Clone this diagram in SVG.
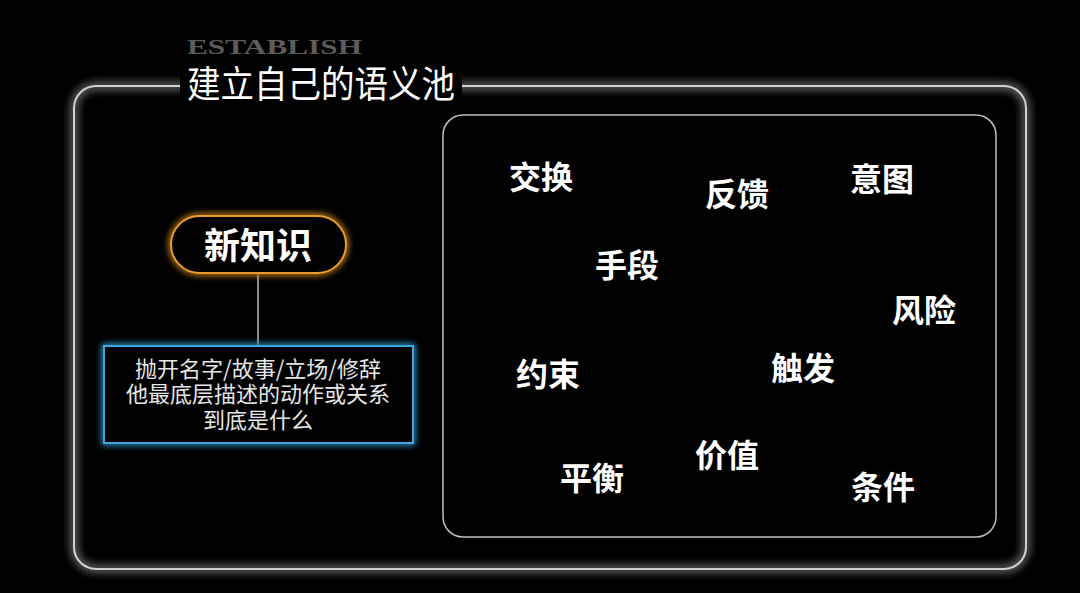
<svg xmlns="http://www.w3.org/2000/svg" width="1080" height="593" viewBox="0 0 1080 593">
  <defs>
    <filter id="glow" x="-10%" y="-10%" width="120%" height="120%">
      <feGaussianBlur in="SourceGraphic" stdDeviation="5" result="b"/>
      <feMerge><feMergeNode in="b"/><feMergeNode in="b"/><feMergeNode in="SourceGraphic"/></feMerge>
    </filter>
    <filter id="glowS" x="-20%" y="-40%" width="140%" height="180%">
      <feGaussianBlur in="SourceGraphic" stdDeviation="3.5" result="b"/>
      <feMerge><feMergeNode in="b"/><feMergeNode in="b"/><feMergeNode in="SourceGraphic"/></feMerge>
    </filter>
  </defs>
  <style>
    .word { font-family: "Noto Sans CJK SC", "Noto Sans", sans-serif; font-size: 32px; font-weight: bold; fill: #ffffff; text-anchor: middle; }
    .desc { font-family: "Noto Sans CJK SC", "Noto Sans", sans-serif; font-size: 22px; fill: #e6e6e6; text-anchor: middle; }
  </style>
  <rect x="0" y="0" width="1080" height="593" fill="#000000"/>

  <g id="frame">
    <rect x="74" y="86" width="952" height="483" rx="22" fill="none" stroke="#d0d0d0" stroke-width="2" filter="url(#glow)"/>
  </g>

  <g id="title">
    <rect x="180" y="70" width="282" height="34" fill="#000000"/>
    <text x="187" y="54" font-family="Liberation Serif, serif" font-weight="bold" font-size="20" fill="#5c5c5c" textLength="175" lengthAdjust="spacingAndGlyphs">ESTABLISH</text>
    <text x="187" y="98" font-family="Noto Sans CJK SC, sans-serif" font-size="37" fill="#ffffff" textLength="268" lengthAdjust="spacingAndGlyphs">建立自己的语义池</text>
  </g>

  <g id="pool">
    <rect x="443" y="115" width="553" height="422" rx="20" fill="none" stroke="#c0c0c0" stroke-width="1.5"/>
  </g>

  <g id="connectors">
    <line x1="258" y1="273" x2="258" y2="346" stroke="#bdbdbd" stroke-width="1.5"/>
  </g>

  <g id="node-new-knowledge">
    <rect x="171" y="216" width="175" height="57" rx="28.5" fill="#000000" stroke="#e89a2c" stroke-width="2" filter="url(#glowS)"/>
    <text x="258" y="259" font-family="Noto Sans CJK SC, sans-serif" font-size="36" font-weight="bold" fill="#ffffff" text-anchor="middle">新知识</text>
  </g>

  <g id="node-description">
    <rect x="104" y="346" width="309" height="97" fill="#000000" stroke="#3ea6e0" stroke-width="2" filter="url(#glowS)"/>
    <text class="desc" x="258" y="377">抛开名字/故事/立场/修辞</text>
    <text class="desc" x="258" y="402">他最底层描述的动作或关系</text>
    <text class="desc" x="258" y="428">到底是什么</text>
  </g>

  <g id="w-jiaohuan"><text class="word" x="541" y="189">交换</text></g>
  <g id="w-fankui"><text class="word" x="737" y="206">反馈</text></g>
  <g id="w-yitu"><text class="word" x="882" y="191">意图</text></g>
  <g id="w-shouduan"><text class="word" x="627" y="277">手段</text></g>
  <g id="w-fengxian"><text class="word" x="924" y="322">风险</text></g>
  <g id="w-yueshu"><text class="word" x="548" y="386">约束</text></g>
  <g id="w-chufa"><text class="word" x="803" y="380">触发</text></g>
  <g id="w-jiazhi"><text class="word" x="727" y="467">价值</text></g>
  <g id="w-pingheng"><text class="word" x="592" y="490">平衡</text></g>
  <g id="w-tiaojian"><text class="word" x="883" y="499">条件</text></g>
</svg>
